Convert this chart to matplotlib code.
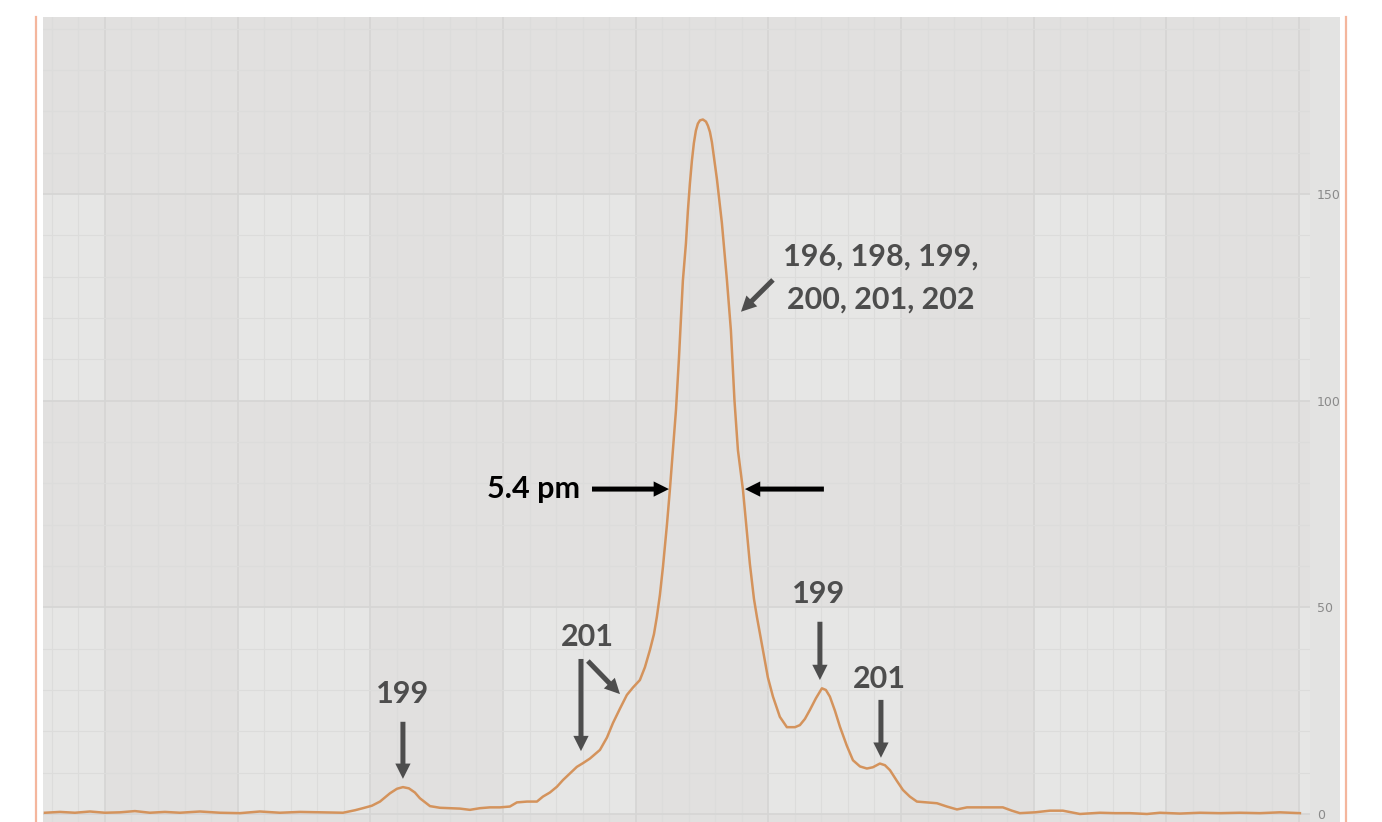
import matplotlib
matplotlib.use('Agg')
import matplotlib.pyplot as plt
from matplotlib.patches import Rectangle, FancyArrowPatch
from matplotlib.lines import Line2D
from matplotlib.ticker import MultipleLocator

# ---- spectrum (x in grid units, 10 per major line) ----
x_vals = [
    -4.52, -3.39, -2.26, -1.13, 0.00, 1.13, 2.26, 3.39, 4.52, 5.65,
    7.16, 8.67, 10.17, 11.68, 13.19, 14.70, 16.20, 17.94, 18.84, 19.44,
    20.12, 20.73, 21.48, 22.01, 22.46, 22.91, 23.36, 23.74, 24.50, 25.25,
    26.00, 26.76, 27.51, 28.26, 29.02, 29.77, 30.52, 31.05, 31.81, 32.56,
    33.01, 33.54, 34.07, 34.52, 35.05, 35.57, 36.03, 36.55, 37.31, 37.84,
    38.29, 38.82, 39.34, 39.80, 40.32, 40.70, 41.08, 41.38, 41.60, 41.83,
    42.06, 42.36, 42.58, 42.81, 43.04, 43.26, 43.56, 43.79, 43.94, 44.09,
    44.24, 44.39, 44.54, 44.69, 44.85, 45.07, 45.30, 45.45, 45.60, 45.75,
    45.90, 46.13, 46.50, 46.88, 47.18,
    47.45, 47.71, 48.09, 48.39, 48.61, 48.92, 49.14, 49.59, 49.97, 50.35,
    50.87, 51.40, 52.01, 52.38, 52.76, 53.14, 53.59, 54.04, 54.34, 54.64,
    55.02, 55.40, 55.92, 56.38, 56.91, 57.43, 57.88, 58.41, 58.79, 59.17,
    59.69, 60.15, 60.67, 61.20, 61.95, 62.71, 63.46, 64.22, 64.97, 66.33,
    67.68, 68.36, 68.96, 70.09, 71.22, 72.20, 73.49, 74.99, 76.12, 77.25,
    78.54, 79.52, 81.02, 82.53, 84.04, 85.54, 87.05, 88.56, 90.07,
]
intensity = [
    0.3, 0.5, 0.3, 0.6, 0.3, 0.4, 0.7, 0.3, 0.5, 0.3,
    0.6, 0.3, 0.2, 0.6, 0.3, 0.5, 0.4, 0.3, 0.9, 1.4,
    2.0, 3.0, 5.0, 6.1, 6.5, 6.2, 5.2, 3.8, 1.9, 1.5,
    1.4, 1.3, 1.0, 1.4, 1.6, 1.6, 1.8, 2.8, 3.0, 3.0,
    4.2, 5.2, 6.6, 8.2, 9.8, 11.4, 12.3, 13.4, 15.5, 18.5,
    22.0, 25.5, 28.8, 30.6, 32.4, 35.5, 39.7, 43.5, 47.7, 53.0,
    59.8, 70.0, 78.4, 88.0, 97.7, 110.0, 129.0, 138.0, 146.0, 152.5,
    158.0, 162.3, 165.3, 167.0, 167.8, 168.0, 167.5, 166.5, 165.0, 162.5,
    159.0, 153.5, 143.0, 129.2, 117.0,
    100.0, 88.0, 78.4, 68.0, 60.5, 52.0, 47.7, 39.7, 33.0, 28.4,
    23.5, 21.0, 21.0, 21.5, 23.0, 25.2, 28.0, 30.4, 30.0, 28.4,
    25.0, 21.1, 16.5, 13.0, 11.5, 11.0, 11.3, 12.2, 11.8, 10.6,
    8.0, 5.8, 4.2, 3.0, 2.8, 2.6, 1.8, 1.1, 1.6, 1.6,
    1.6, 0.8, 0.2, 0.4, 0.8, 0.8, 0.0, 0.3, 0.2, 0.2,
    0.0, 0.3, 0.1, 0.3, 0.2, 0.3, 0.2, 0.4, 0.2,
]
y_ticks = [0, 50, 100, 150]
y_tick_labels = ['0', '50', '100', '150']

# ---- look ----
BG_DARK = '#e1e0df'
BG_LIGHT = '#e6e6e5'
LINE = '#d4935c'
ANN = '#4d4d4d'
FONT = ['Lato', 'DejaVu Sans']

W, H = 1382, 822
fig = plt.figure(figsize=(W / 100, H / 100), dpi=100, facecolor='white')

# grey panel that also holds the tick labels on the right (behind the axes)
fig.patches.append(Rectangle((43 / W, 0), (1340 - 43) / W, 1 - 17 / H,
                             transform=fig.transFigure, facecolor='#e3e3e2',
                             edgecolor='none', zorder=-5))
# thin salmon frame lines at both sides
for xf in (36 / W, 1346 / W):
    fig.lines.append(Line2D([xf, xf], [0, 1 - 17 / H], transform=fig.transFigure,
                            color='#f3a98c', lw=1.6, alpha=0.85, zorder=-5))

ax = fig.add_axes([43 / W, 0, (1310 - 43) / W, 1 - 17 / H])
ax.set_zorder(1)
ax.set_facecolor(BG_DARK)
ax.set_xlim(-4.67, 90.83)
ax.set_ylim(-1.94, 192.8)

# banded background: alternate columns lighter in rows 0-50 and 100-150
for row in (0, 100):
    for col in range(-10, 100, 20):
        ax.add_patch(Rectangle((col, row), 10, 50, facecolor=BG_LIGHT,
                               edgecolor='none', zorder=0.1))

ax.set_axisbelow(True)
ax.xaxis.set_major_locator(MultipleLocator(10))
ax.xaxis.set_minor_locator(MultipleLocator(2))
ax.yaxis.set_minor_locator(MultipleLocator(10))
ax.grid(which='major', color='#d5d5d4', lw=1.2)
ax.grid(which='minor', color='#dcdcdb', lw=0.8)

for s in ax.spines.values():
    s.set_visible(False)
ax.tick_params(axis='x', which='both', length=0, labelbottom=False)
ax.yaxis.tick_right()
ax.set_yticks(y_ticks)
ax.set_yticklabels(y_tick_labels)
ax.tick_params(axis='y', which='both', length=0, pad=5, labelsize=9,
               labelcolor='#8a8a8a')

ax.plot(x_vals, intensity, color=LINE, lw=1.8, zorder=3, solid_joinstyle='round')


def arrow(start, end, color=ANN):
    a = FancyArrowPatch(start, end,
                        arrowstyle='simple,head_length=1.1,head_width=1.1,tail_width=0.36',
                        mutation_scale=10, color=color, lw=0,
                        shrinkA=0, shrinkB=0, zorder=5)
    ax.add_patch(a)


def label(x, y, s, color=ANN):
    ax.text(x, y, s, ha='center', va='center', fontsize=22, fontweight='bold',
            color=color, family=FONT, zorder=6)


# left 199
label(22.46, 29.0, '199')
arrow((22.46, 22.3), (22.46, 8.5))

# left 201 (two arrows)
label(36.33, 42.8, '201')
arrow((35.88, 37.5), (35.88, 15.2))
arrow((36.40, 37.0), (38.82, 29.0))

# FWHM
label(32.33, 78.6, '5.4 pm', color='black')
arrow((36.71, 78.6), (42.51, 78.6), color='black')
arrow((54.19, 78.6), (48.24, 78.6), color='black')

# main peak isotopes
label(58.49, 134.8, '196, 198, 199,')
label(58.49, 124.4, '200, 201, 202')
arrow((50.35, 129.2), (47.94, 121.5))

# right 199
label(53.81, 53.2, '199')
arrow((53.89, 46.5), (53.89, 32.4))

# right 201
label(58.34, 32.7, '201')
arrow((58.49, 27.6), (58.49, 13.6))

fig.savefig('out.png', dpi=100, facecolor='white')
